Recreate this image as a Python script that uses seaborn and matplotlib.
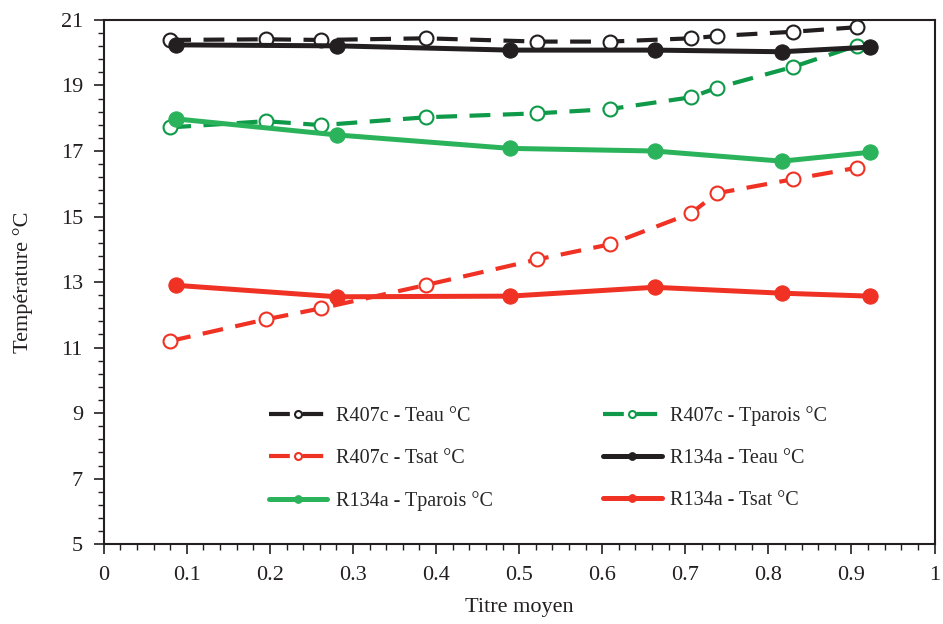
import numpy as np
import pandas as pd
import seaborn as sns
import matplotlib.pyplot as plt
from matplotlib.ticker import MultipleLocator, FormatStrFormatter

sns.set_theme(style="ticks")
plt.rcParams['font.family'] = ['Liberation Serif', 'DejaVu Serif']

# R407c measurements (open markers, dashed)
x_r407c = [0.080, 0.195, 0.262, 0.388, 0.522, 0.609, 0.707, 0.738, 0.830, 0.907]
teau_r407c = [20.39, 20.41, 20.39, 20.44, 20.34, 20.34, 20.44, 20.51, 20.64, 20.78]
tparois_r407c = [17.72, 17.91, 17.79, 18.03, 18.15, 18.28, 18.64, 18.93, 19.57, 20.22]
tsat_r407c = [11.20, 11.86, 12.20, 12.91, 13.69, 14.15, 15.10, 15.71, 16.14, 16.49]

# R134a measurements (filled markers, solid)
x_r134a = [0.087, 0.281, 0.489, 0.663, 0.816, 0.922]
teau_r134a = [20.24, 20.21, 20.08, 20.08, 20.03, 20.17]
tparois_r134a = [17.98, 17.49, 17.08, 17.00, 16.69, 16.96]
tsat_r134a = [12.90, 12.55, 12.57, 12.84, 12.66, 12.57]

y_ticks = [5, 7, 9, 11, 13, 15, 17, 19, 21]

black = "#231f20"
green_d = "#0e9a48"
green_s = "#2bb35c"
red = "#ef3224"

fig, ax = plt.subplots(figsize=(9.43, 6.24), dpi=100)
fig.subplots_adjust(left=0.110, right=0.991, top=0.968, bottom=0.128)

series = [
    ("R407c - Teau °C", x_r407c, teau_r407c, black, "--", False),
    ("R407c - Tparois °C", x_r407c, tparois_r407c, green_d, "--", False),
    ("R407c - Tsat °C", x_r407c, tsat_r407c, red, "--", False),
    ("R134a - Teau °C", x_r134a, teau_r134a, black, "-", True),
    ("R134a - Tparois °C", x_r134a, tparois_r134a, green_s, "-", True),
    ("R134a - Tsat °C", x_r134a, tsat_r134a, red, "-", True),
]

handles = {}
for name, xs, ys, col, ls, filled in series:
    df = pd.DataFrame({"x": xs, "y": ys})
    if filled:
        sns.lineplot(data=df, x="x", y="y", ax=ax, sort=False, color=col,
                     linestyle=ls, linewidth=3.6, marker="o", markersize=11,
                     markerfacecolor=col, markeredgecolor=col, label=name)
    else:
        sns.lineplot(data=df, x="x", y="y", ax=ax, sort=False, color=col,
                     linestyle=ls, linewidth=3.0, marker="o", markersize=10,
                     markerfacecolor="white", markeredgecolor=col,
                     markeredgewidth=1.5, dashes=False, label=name)
        ax.lines[-1].set_dashes([5, 3])
    handles[name] = ax.lines[-1]

order = ["R407c - Teau °C", "R407c - Tsat °C", "R134a - Tparois °C",
         "R407c - Tparois °C", "R134a - Teau °C", "R134a - Tsat °C"]
ax.legend([handles[k] for k in order], order, ncol=2, frameon=False,
          loc="upper left", bbox_to_anchor=(0.199, 0.264), borderpad=0,
          borderaxespad=0, fontsize=14.5, handlelength=2.9,
          handletextpad=0.4, columnspacing=5.5, labelspacing=1.15,
          markerscale=0.5)

ax.set_xlim(0, 1)
ax.set_ylim(5, 21)
ax.xaxis.set_major_locator(MultipleLocator(0.1))
ax.xaxis.set_minor_locator(MultipleLocator(0.02))
ax.set_yticks(y_ticks)
ax.set_yticks(np.arange(5, 21.01, 0.4), minor=True)
ax.xaxis.set_major_formatter(FormatStrFormatter("%g"))
ax.tick_params(which="major", direction="out", length=7, width=1.2,
               labelsize=16, color=black, labelcolor=black)
ax.tick_params(which="minor", direction="out", length=4, width=1.0, color=black)
ax.tick_params(axis="x", pad=9)
ax.tick_params(axis="y", pad=8)
for s in ax.spines.values():
    s.set_color(black)
    s.set_linewidth(1.5)

ax.set_xlabel("Titre moyen", fontsize=16, color=black, labelpad=9)
ax.set_ylabel("Température °C", fontsize=16, color=black, labelpad=20)

fig.savefig("out.png", dpi=100)
